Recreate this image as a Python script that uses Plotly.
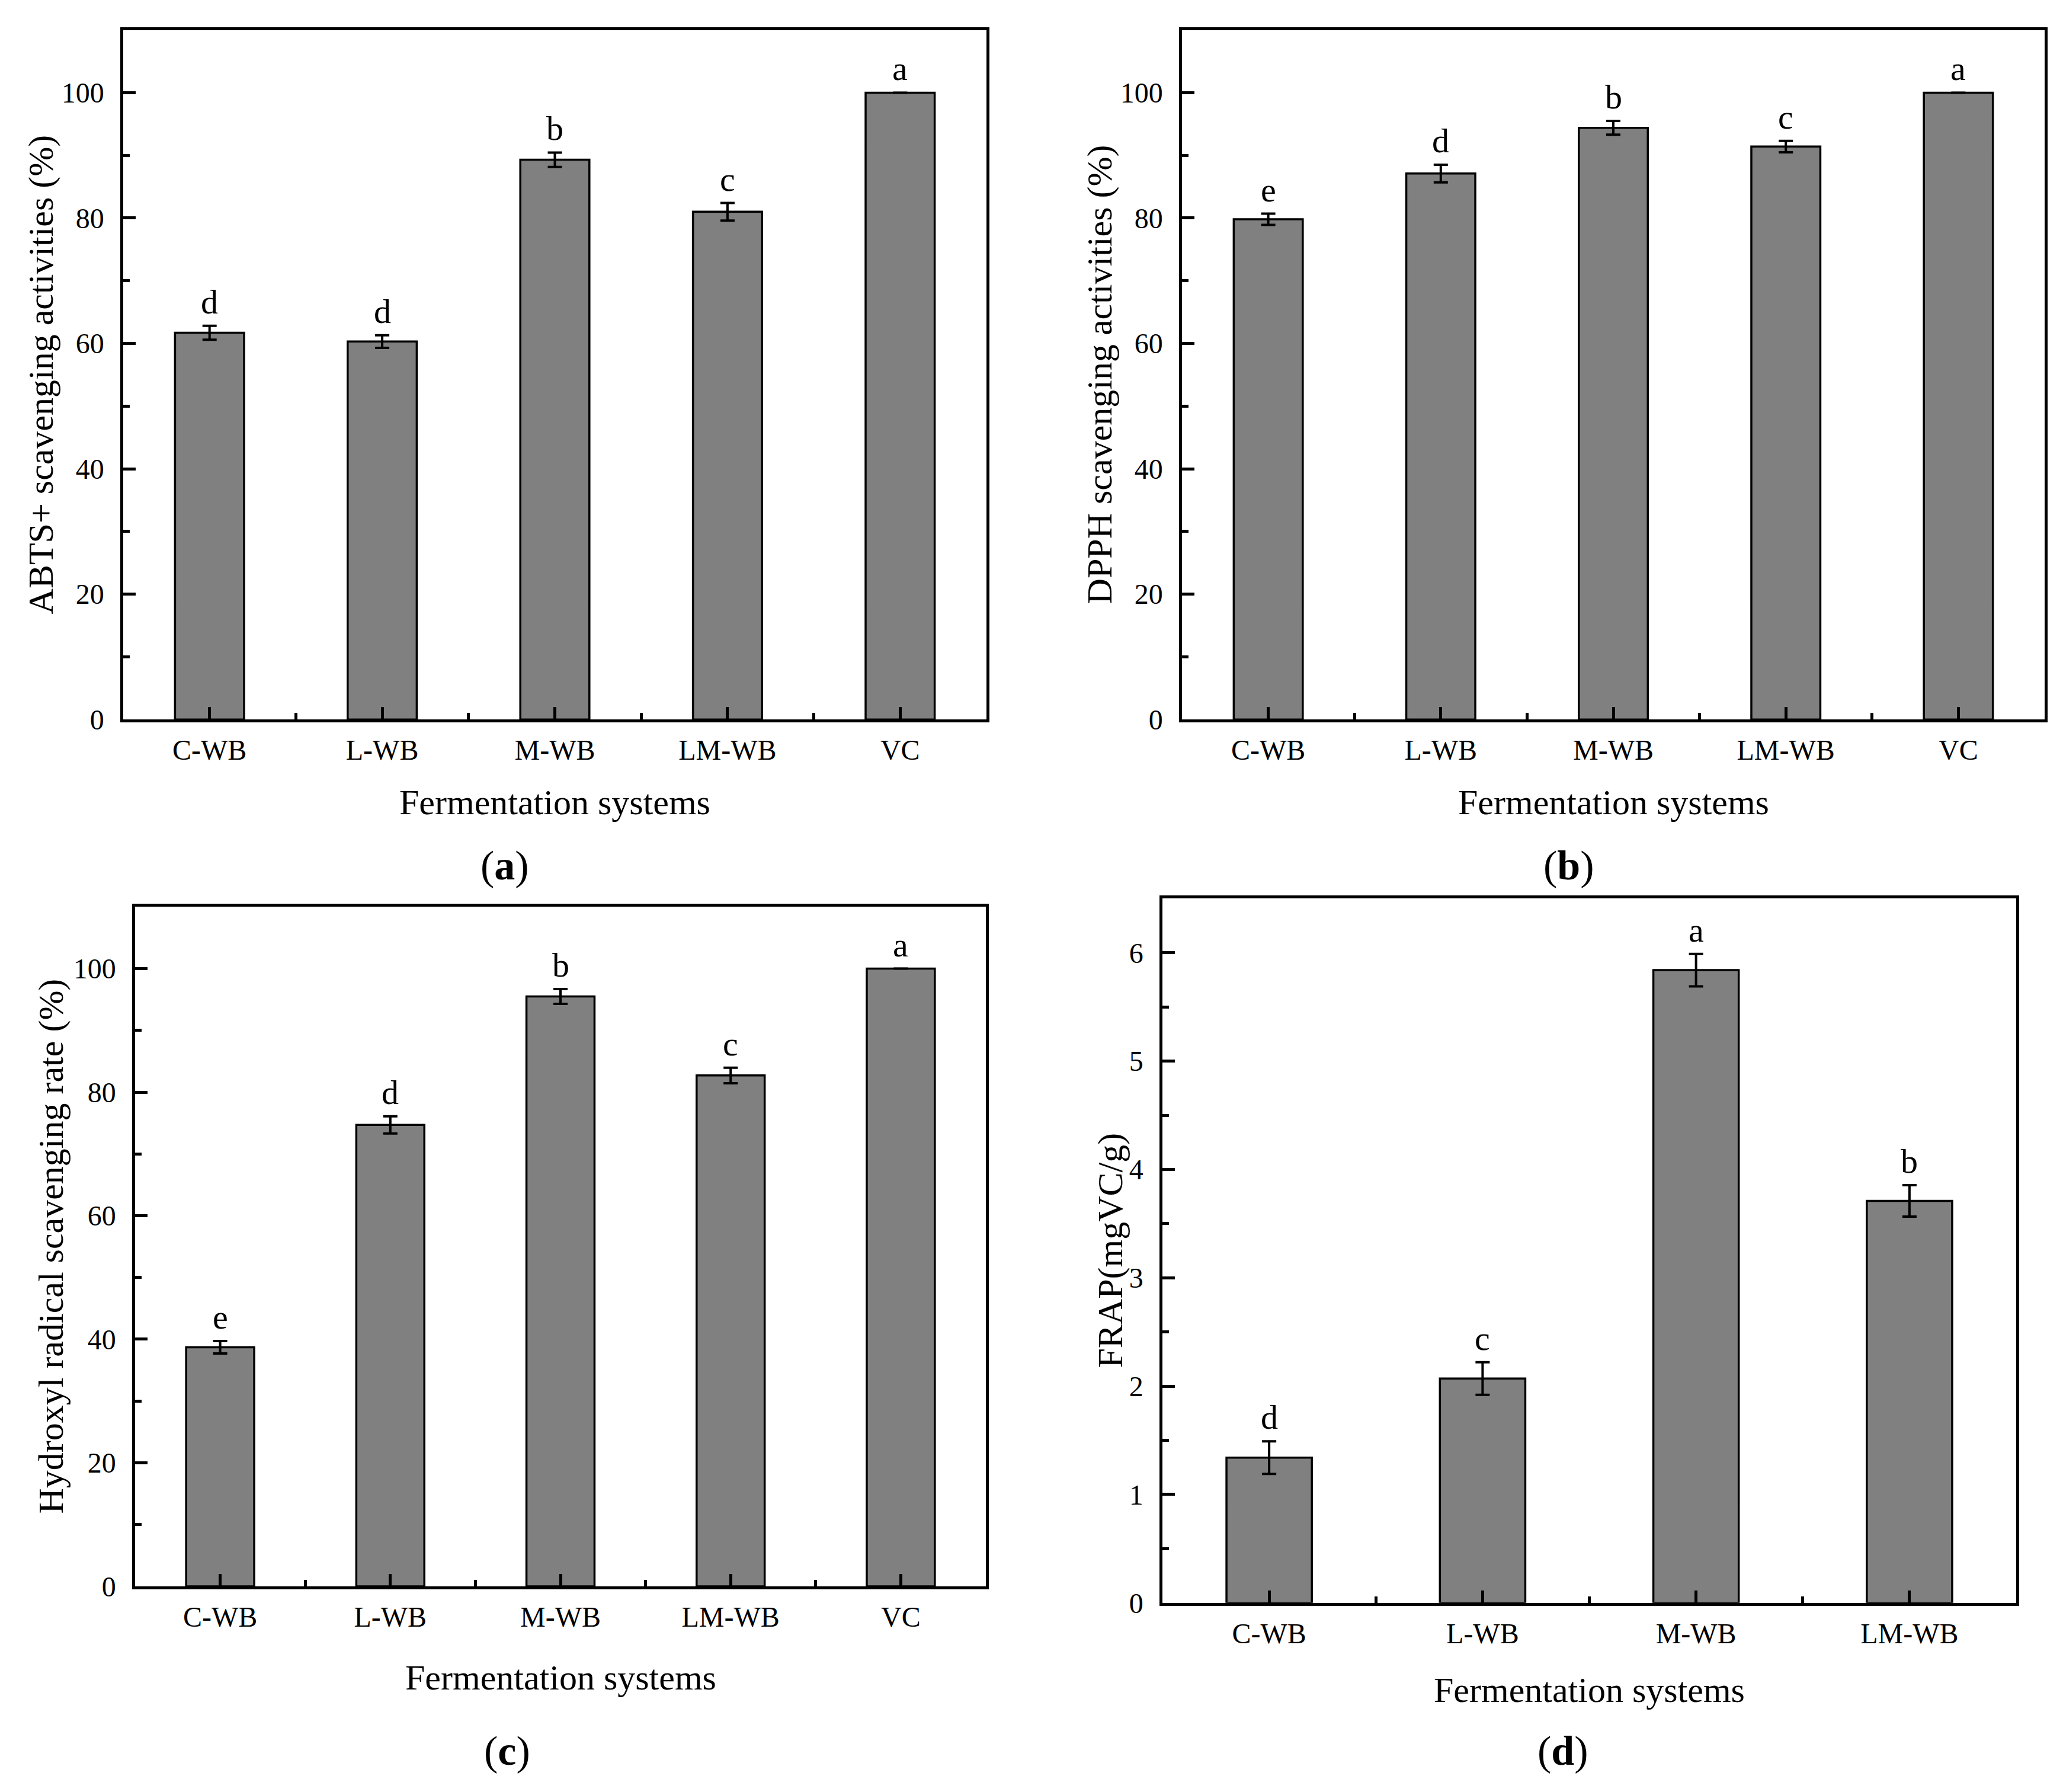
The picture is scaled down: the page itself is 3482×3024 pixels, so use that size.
import plotly.graph_objects as go

# category labels
cats5 = ["C-WB", "L-WB", "M-WB", "LM-WB", "VC"]
cats4 = ["C-WB", "L-WB", "M-WB", "LM-WB"]

# (a) ABTS+ scavenging activities (%)
abts_mean = [61.7, 60.3, 89.3, 81.0, 100.0]
abts_err = [1.1, 1.0, 1.15, 1.4, 0.0]
abts_sig = ["d", "d", "b", "c", "a"]

# (b) DPPH scavenging activities (%)
dpph_mean = [79.8, 87.1, 94.4, 91.4, 100.0]
dpph_err = [0.9, 1.4, 1.1, 0.9, 0.0]
dpph_sig = ["e", "d", "b", "c", "a"]

# (c) Hydroxyl radical scavenging rate (%)
oh_mean = [38.7, 74.7, 95.5, 82.7, 100.0]
oh_err = [1.0, 1.4, 1.2, 1.25, 0.0]
oh_sig = ["e", "d", "b", "c", "a"]

# (d) FRAP (mgVC/g)
frap_mean = [1.34, 2.07, 5.84, 3.71]
frap_err = [0.15, 0.15, 0.15, 0.145]
frap_sig = ["d", "c", "a", "b"]

W, H = 3482, 3024
FONT = "Liberation Serif"


def px(x):
    return x / W


def py(y):
    return 1 - y / H


# layout of each panel in pixels: plot box (left, top, right, bottom)
panels = [
    dict(cats=cats5, mean=abts_mean, err=abts_err, sig=abts_sig,
         ytitle="ABTS+ scavenging activities (%)", yrange=[0, 110], dtick=20, minor=10,
         box=(200, 43, 1657, 1217), ytitle_x=61, xtitle_y=1358, tag="a", tag_xy=(844, 1466)),
    dict(cats=cats5, mean=dpph_mean, err=dpph_err, sig=dpph_sig,
         ytitle="DPPH scavenging activities (%)", yrange=[0, 110], dtick=20, minor=10,
         box=(1987, 43, 3443, 1217), ytitle_x=1848, xtitle_y=1358, tag="b", tag_xy=(2640, 1466)),
    dict(cats=cats5, mean=oh_mean, err=oh_err, sig=oh_sig,
         ytitle="Hydroxyl radical scavenging rate (%)", yrange=[0, 110], dtick=20, minor=10,
         box=(220, 1536, 1656, 2693), ytitle_x=78, xtitle_y=2848, tag="c", tag_xy=(848, 2973)),
    dict(cats=cats4, mean=frap_mean, err=frap_err, sig=frap_sig,
         ytitle="FRAP(mgVC/g)", yrange=[0, 6.5], dtick=1, minor=0.5,
         box=(1954, 1522, 3395, 2721), ytitle_x=1866, xtitle_y=2870, tag="d", tag_xy=(2630, 2973)),
]

fig = go.Figure()
annotations = []

for k, p in enumerate(panels, start=1):
    sfx = "" if k == 1 else str(k)
    n = len(p["cats"])
    xs = list(range(n))
    fig.add_trace(go.Bar(
        x=xs, y=p["mean"], width=0.4,
        marker=dict(color="#808080", line=dict(color="black", width=3.5)),
        error_y=dict(type="data", array=p["err"], color="black", thickness=4, width=12),
        xaxis="x" + sfx, yaxis="y" + sfx, showlegend=False,
    ))

    left, top, right, bottom = p["box"]
    axis_common = dict(
        showline=True, linecolor="black", linewidth=4.5, mirror=True,
        ticks="inside", ticklen=21, tickwidth=4.5, tickcolor="black",
        showgrid=False, zeroline=False, layer="above traces",
        tickfont=dict(family=FONT, size=48, color="black"),
    )
    fig.layout["xaxis" + sfx] = dict(
        axis_common, domain=[px(left), px(right)], anchor="y" + sfx,
        range=[-0.5, n - 0.5], tickmode="array", tickvals=xs, ticktext=p["cats"],
        ticklabelstandoff=6,
        minor=dict(tick0=0.5, dtick=1, ticks="inside", ticklen=11, tickwidth=4.5,
                   tickcolor="black", showgrid=False),
    )
    fig.layout["yaxis" + sfx] = dict(
        axis_common, domain=[py(bottom), py(top)], anchor="x" + sfx,
        range=p["yrange"], tickmode="linear", tick0=0, dtick=p["dtick"],
        ticklabelstandoff=18,
        minor=dict(tick0=0, dtick=p["minor"], ticks="inside", ticklen=11, tickwidth=4.5,
                   tickcolor="black", showgrid=False),
    )

    # significance letters above the bars
    for i, (m, e, s) in enumerate(zip(p["mean"], p["err"], p["sig"])):
        annotations.append(dict(
            x=i, y=m + e, xref="x" + sfx, yref="y" + sfx, text=s, showarrow=False,
            yanchor="bottom", yshift=6, font=dict(family=FONT, size=58, color="black"),
        ))

    # axis titles
    annotations.append(dict(
        x=px((left + right) / 2), y=py(p["xtitle_y"]), xref="paper", yref="paper",
        text="Fermentation systems", showarrow=False, xanchor="center", yanchor="middle",
        font=dict(family=FONT, size=60, color="black"),
    ))
    annotations.append(dict(
        x=px(p["ytitle_x"]), y=py((top + bottom) / 2), xref="paper", yref="paper",
        text=p["ytitle"], showarrow=False, textangle=-90, xanchor="center", yanchor="middle",
        font=dict(family=FONT, size=60, color="black"),
    ))
    # panel tag
    annotations.append(dict(
        x=px(p["tag_xy"][0]), y=py(p["tag_xy"][1]), xref="paper", yref="paper",
        text="(<b>" + p["tag"] + "</b>)", showarrow=False, xanchor="center", yanchor="middle",
        font=dict(family=FONT, size=70, color="black"),
    ))

fig.update_layout(
    width=W, height=H,
    margin=dict(l=0, r=0, t=0, b=0),
    paper_bgcolor="white", plot_bgcolor="white",
    annotations=annotations,
    bargap=0.6,
)

fig.write_html("out.html")
